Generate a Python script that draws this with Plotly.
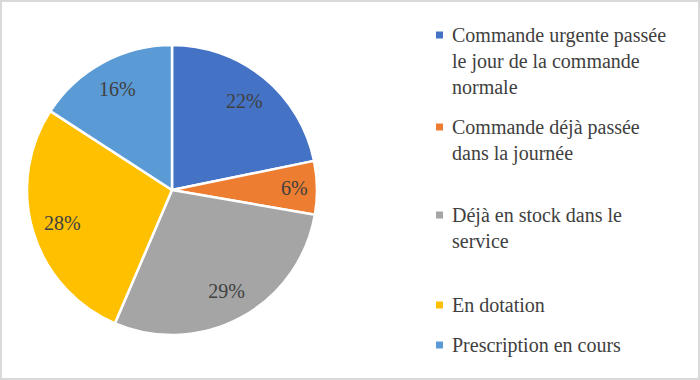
import plotly.graph_objects as go

labels = [
    "Commande urgente passée<br>le jour de la commande<br>normale",
    "Commande déjà passée<br>dans la journée",
    "Déjà en stock dans le<br>service",
    "En dotation",
    "Prescription en cours",
]
values = [22, 6, 29, 28, 16]
colors = ["#4472C4", "#ED7D31", "#A5A5A5", "#FFC000", "#5B9BD5"]
# legend row centres (px from top) of each entry's first line
legend_y_px = [35, 127, 215, 305, 345]

W, H = 700, 380
FONT = "Liberation Serif, DejaVu Serif, serif"
TXT = "#404040"
domain = dict(x=[27 / W, 317 / W], y=[45 / H, 335 / H])

fig = go.Figure()
# coloured slices
fig.add_trace(go.Pie(
    labels=labels, values=values, sort=False, direction="clockwise", rotation=0,
    marker=dict(colors=colors, line=dict(color="white", width=2.5)),
    textinfo="none", domain=domain, showlegend=False, hoverinfo="label+percent",
))
# transparent ring used only to place the percentage labels further out
fig.add_trace(go.Pie(
    labels=labels, values=values, sort=False, direction="clockwise", rotation=0,
    hole=0.58,
    marker=dict(colors=["rgba(0,0,0,0)"] * len(values), line=dict(width=0)),
    texttemplate="%{percent:.0%}", textposition="inside",
    insidetextorientation="horizontal",
    textfont=dict(family=FONT, size=20, color=TXT),
    domain=domain, showlegend=False, hoverinfo="skip",
))

shapes = [
    dict(type="rect", xref="paper", yref="paper", x0=1 / W, x1=1 - 1 / W,
         y0=1 / H, y1=1 - 1 / H, line=dict(color="#D9D9D9", width=2))
]
annotations = []
for lab, col, yp in zip(labels, colors, legend_y_px):
    shapes.append(dict(type="rect", xref="paper", yref="paper",
                       x0=436 / W, x1=443 / W,
                       y0=1 - (yp + 3.5) / H, y1=1 - (yp - 3.5) / H,
                       fillcolor=col, line=dict(width=0)))
    annotations.append(dict(
        xref="paper", yref="paper", x=450 / W, y=1 - (yp - 13) / H,
        xanchor="left", yanchor="top", align="left", showarrow=False,
        text=lab, font=dict(family=FONT, size=20, color=TXT),
    ))

fig.update_layout(
    width=W, height=H,
    margin=dict(l=0, r=0, t=0, b=0),
    paper_bgcolor="white", plot_bgcolor="white",
    shapes=shapes, annotations=annotations,
    uniformtext=dict(minsize=14, mode="show"),
)
fig.write_html("out.html", config={"displayModeBar": False},
               post_script="document.body.style.margin='0';")
